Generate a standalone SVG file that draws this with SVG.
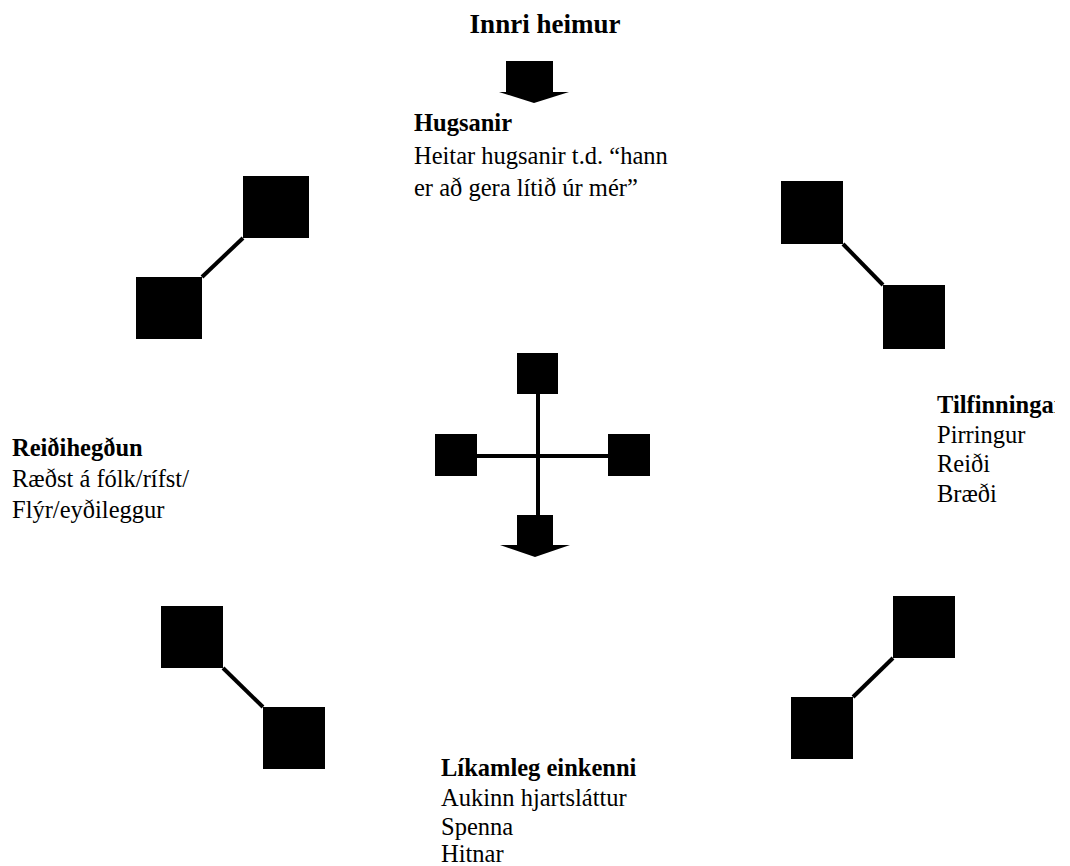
<svg xmlns="http://www.w3.org/2000/svg" width="1070" height="866" viewBox="0 0 1070 866">
<style>
text{font-family:"Liberation Serif","Times New Roman",serif;fill:#000}
.h{font-weight:bold;font-size:24.5px}
.b{font-size:24.5px}
.t{font-weight:bold;font-size:27px}
.sq{fill:#000}
.ln{stroke:#000;stroke-width:4;fill:none}
</style>
<defs><clipPath id="tbox"><rect x="930" y="380" width="125" height="140"/></clipPath></defs>
<rect width="1070" height="866" fill="#fff"/>
<g id="title"><text class="t" x="545" y="33" text-anchor="middle">Innri heimur</text></g>
<g id="top-arrow"><rect class="sq" x="506" y="61" width="47" height="32"/><polygon class="sq" points="499,92 569,92 534,103"/></g>
<g id="hugsanir">
<text class="h" x="414" y="131">Hugsanir</text>
<text class="b" x="414" y="164">Heitar hugsanir t.d. “hann</text>
<text class="b" x="414" y="196">er að gera lítið úr mér”</text>
</g>
<g id="tilfinningar" clip-path="url(#tbox)">
<text class="h" x="937" y="413">Tilfinningar</text>
<text class="b" x="937" y="443">Pirringur</text>
<text class="b" x="937" y="472">Reiði</text>
<text class="b" x="937" y="502">Bræði</text>
</g>
<g id="reidihegdun">
<text class="h" x="12" y="456">Reiðihegðun</text>
<text class="b" x="12" y="487">Ræðst á fólk/rífst/</text>
<text class="b" x="12" y="518">Flýr/eyðileggur</text>
</g>
<g id="likamleg">
<text class="h" x="441" y="776">Líkamleg einkenni</text>
<text class="b" x="441" y="806">Aukinn hjartsláttur</text>
<text class="b" x="441" y="835">Spenna</text>
<text class="b" x="441" y="862">Hitnar</text>
</g>
<g id="connectors">
<line class="ln" x1="243" y1="238" x2="202" y2="277"/>
<line class="ln" x1="843" y1="244" x2="883" y2="285"/>
<line class="ln" x1="223" y1="668" x2="263" y2="707"/>
<line class="ln" x1="893" y1="658" x2="853" y2="697"/>
<line class="ln" x1="538" y1="394" x2="538" y2="516"/>
<line class="ln" x1="477" y1="456" x2="608" y2="456"/>
</g>
<g id="n-tl"><rect class="sq" x="243" y="176" width="66" height="62"/><rect class="sq" x="136" y="277" width="66" height="62"/></g>
<g id="n-tr"><rect class="sq" x="781" y="181" width="62" height="63"/><rect class="sq" x="883" y="285" width="62" height="64"/></g>
<g id="n-bl"><rect class="sq" x="161" y="606" width="62" height="62"/><rect class="sq" x="263" y="707" width="62" height="62"/></g>
<g id="n-br"><rect class="sq" x="893" y="596" width="62" height="62"/><rect class="sq" x="791" y="697" width="62" height="62"/></g>
<g id="center">
<rect class="sq" x="517" y="353" width="41" height="41"/>
<rect class="sq" x="435" y="434" width="42" height="42"/>
<rect class="sq" x="608" y="434" width="42" height="42"/>
<rect class="sq" x="517" y="515" width="36" height="31"/>
<polygon class="sq" points="500,545 570,545 535,557"/>
</g>
</svg>
